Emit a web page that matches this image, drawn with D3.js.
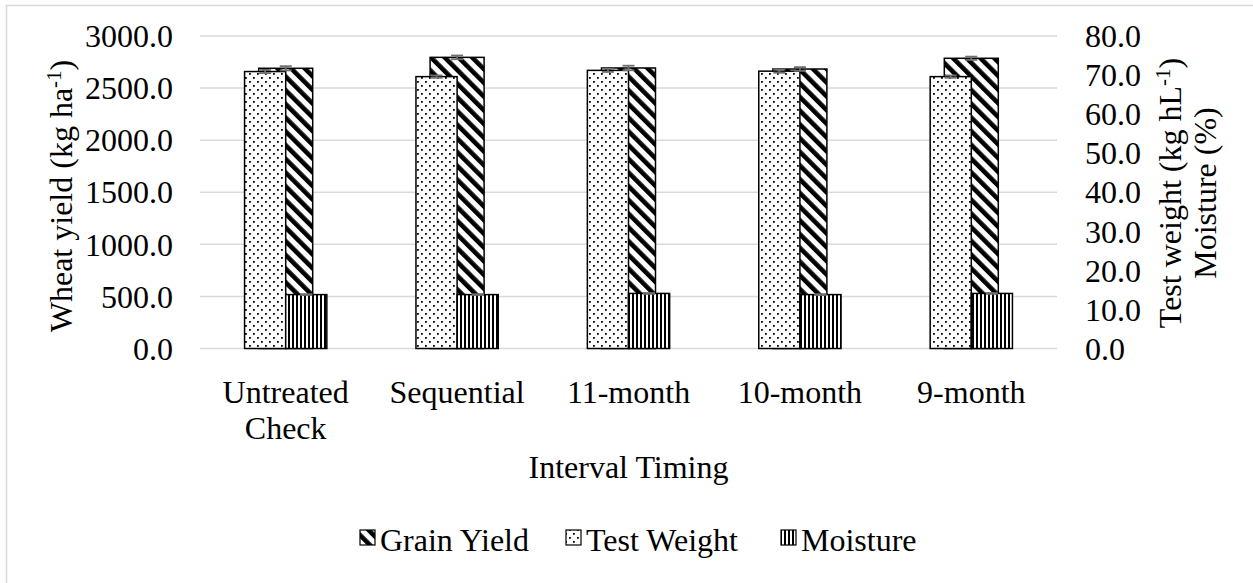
<!DOCTYPE html>
<html>
<head>
<meta charset="utf-8">
<script src="https://cdn.jsdelivr.net/npm/d3@7"></script>
<style>
  body { margin: 0; background: #fff; }
  text { font-family: "Liberation Serif", "Times New Roman", serif; fill: #000; }
</style>
</head>
<body>
<svg id="chart" width="1253" height="583"></svg>
<script>
// chart values
var categories = ["Untreated Check", "Sequential", "11-month", "10-month", "9-month"]
var grainYield = [2690, 2795, 2693, 2683, 2786]      // kg ha-1, left axis
var grainYieldErr = [20, 18, 22, 18, 16]
var testWeight = [70.9, 69.6, 71.2, 71.0, 69.6]      // kg hL-1, right axis
var testWeightErr = [0.4, 0.3, 0.4, 0.4, 0.3]
var moisture = [13.8, 13.8, 14.1, 13.8, 14.1]        // %, right axis
var moistureErr = [0.1, 0.1, 0.1, 0.1, 0.1]
var leftTicks = [0, 500, 1000, 1500, 2000, 2500, 3000]
var rightTicks = [0, 10, 20, 30, 40, 50, 60, 70, 80]

var svg = d3.select("#chart")
var W = 1253, H = 583
var plot = { left: 200, right: 1057, top: 36, bottom: 348.5 }

// outer chart border
svg.append("rect")
  .attr("x", 6.5).attr("y", 5.5)
  .attr("width", W + 20).attr("height", H + 20)
  .attr("fill", "#fff").attr("stroke", "#d9d9d9").attr("stroke-width", 1.5)

// fill patterns
var defs = svg.append("defs")
var dots = defs.append("pattern").attr("id", "dots")
  .attr("patternUnits", "userSpaceOnUse").attr("width", 8).attr("height", 8)
dots.append("rect").attr("width", 8).attr("height", 8).attr("fill", "#fff")
dots.append("rect").attr("x", 1).attr("y", 1).attr("width", 1.8).attr("height", 1.8).attr("fill", "#000")
dots.append("rect").attr("x", 5).attr("y", 5).attr("width", 1.8).attr("height", 1.8).attr("fill", "#000")

var diag = defs.append("pattern").attr("id", "diag")
  .attr("patternUnits", "userSpaceOnUse").attr("width", 9.7).attr("height", 9.7)
  .attr("patternTransform", "rotate(-45)")
diag.append("rect").attr("width", 9.7).attr("height", 9.7).attr("fill", "#fff")
diag.append("rect").attr("width", 4.6).attr("height", 9.7).attr("fill", "#000")

var vlines = defs.append("pattern").attr("id", "vlines")
  .attr("patternUnits", "userSpaceOnUse").attr("width", 4).attr("height", 4)
vlines.append("rect").attr("width", 4).attr("height", 4).attr("fill", "#fff")
vlines.append("rect").attr("width", 2).attr("height", 4).attr("fill", "#000")

// scales
var x = d3.scaleBand().domain(categories).range([plot.left, plot.right]).padding(0)
var yL = d3.scaleLinear().domain([0, 3000]).range([plot.bottom, plot.top])
var yR = d3.scaleLinear().domain([0, 80]).range([plot.bottom, plot.top])
var bw = x.bandwidth()
var wideW = bw * 0.315   // grain yield bar width
var sideW = bw * 0.24    // test weight / moisture bar width

// gridlines
svg.append("g").selectAll("line")
  .data(leftTicks)
  .enter()
  .append("line")
    .attr("x1", plot.left).attr("x2", plot.right)
    .attr("y1", function (d) { return yL(d) })
    .attr("y2", function (d) { return yL(d) })
    .attr("stroke", "#d9d9d9").attr("stroke-width", 1.5)

// left axis labels
svg.append("g").selectAll("text")
  .data(leftTicks)
  .enter()
  .append("text")
    .attr("x", 173)
    .attr("y", function (d) { return yL(d) })
    .attr("dy", "0.35em")
    .attr("text-anchor", "end")
    .style("font-size", "32px")
    .text(function (d) { return d3.format(".1f")(d) })

// right axis labels
svg.append("g").selectAll("text")
  .data(rightTicks)
  .enter()
  .append("text")
    .attr("x", 1085)
    .attr("y", function (d) { return yR(d) })
    .attr("dy", "0.35em")
    .attr("text-anchor", "start")
    .style("font-size", "32px")
    .text(function (d) { return d3.format(".1f")(d) })

var idx = d3.range(categories.length)
function cx(i) { return x(categories[i]) + bw / 2 }

// grain yield (primary axis), centred on the category
svg.append("g").selectAll("rect")
  .data(idx)
  .enter()
  .append("rect")
    .attr("x", function (i) { return cx(i) - wideW / 2 })
    .attr("y", function (i) { return yL(grainYield[i]) })
    .attr("width", wideW)
    .attr("height", function (i) { return plot.bottom - yL(grainYield[i]) })
    .attr("fill", "url(#diag)")
    .attr("stroke", "#000").attr("stroke-width", 1.5)

// test weight (secondary axis), left of centre
svg.append("g").selectAll("rect")
  .data(idx)
  .enter()
  .append("rect")
    .attr("x", function (i) { return cx(i) - sideW })
    .attr("y", function (i) { return yR(testWeight[i]) })
    .attr("width", sideW)
    .attr("height", function (i) { return plot.bottom - yR(testWeight[i]) })
    .attr("fill", "url(#dots)")
    .attr("stroke", "#000").attr("stroke-width", 1.5)

// moisture (secondary axis), right of centre
svg.append("g").selectAll("rect")
  .data(idx)
  .enter()
  .append("rect")
    .attr("x", function (i) { return cx(i) })
    .attr("y", function (i) { return yR(moisture[i]) })
    .attr("width", sideW)
    .attr("height", function (i) { return plot.bottom - yR(moisture[i]) })
    .attr("fill", "url(#vlines)")
    .attr("stroke", "#000").attr("stroke-width", 1.5)

// error bars
function errorBars(vals, errs, scale, offset) {
  var g = svg.append("g").attr("stroke", "#6e6e6e").attr("stroke-width", 1.8)
  idx.forEach(function (i) {
    var xc = cx(i) + offset
    var y0 = scale(vals[i] - errs[i]), y1 = scale(vals[i] + errs[i])
    g.append("line").attr("x1", xc).attr("x2", xc).attr("y1", y0).attr("y2", y1)
    g.append("line").attr("x1", xc - 6).attr("x2", xc + 6).attr("y1", y0).attr("y2", y0)
    g.append("line").attr("x1", xc - 6).attr("x2", xc + 6).attr("y1", y1).attr("y2", y1)
  })
}
errorBars(grainYield, grainYieldErr, yL, 0)
errorBars(testWeight, testWeightErr, yR, -sideW / 2)
errorBars(moisture, moistureErr, yR, sideW / 2)

// category labels (wrapped like Excel)
var catG = svg.append("g")
idx.forEach(function (i) {
  var words = categories[i] == "Untreated Check" ? ["Untreated", "Check"] : [categories[i]]
  words.forEach(function (w, k) {
    catG.append("text")
      .attr("x", cx(i))
      .attr("y", 403 + k * 36)
      .attr("text-anchor", "middle")
      .style("font-size", "32px")
      .text(w)
  })
})

// axis titles
svg.append("text")
  .attr("x", (plot.left + plot.right) / 2)
  .attr("y", 478)
  .attr("text-anchor", "middle")
  .style("font-size", "32px")
  .text("Interval Timing")

var lt = svg.append("text")
  .attr("transform", "translate(72," + 196 + ") rotate(-90)")
  .attr("text-anchor", "middle")
  .style("font-size", "32px")
lt.append("tspan").text("Wheat yield (kg ha")
lt.append("tspan").attr("dy", -11).style("font-size", "21px").text("-1")
lt.append("tspan").attr("dy", 11).text(")")

var rt = svg.append("text")
  .attr("transform", "translate(1181," + 193 + ") rotate(-90)")
  .attr("text-anchor", "middle")
  .style("font-size", "32px")
rt.append("tspan").text("Test weight (kg hL")
rt.append("tspan").attr("dy", -11).style("font-size", "21px").text("-1")
rt.append("tspan").attr("dy", 11).text(")")
svg.append("text")
  .attr("transform", "translate(1216," + 193 + ") rotate(-90)")
  .attr("text-anchor", "middle")
  .style("font-size", "32px")
  .text("Moisture (%)")

// legend
var legendItems = [
  { name: "Grain Yield", fill: "url(#diag)", x: 360 },
  { name: "Test Weight", fill: "url(#dots)", x: 566 },
  { name: "Moisture", fill: "url(#vlines)", x: 781 }
]
var lg = svg.append("g").selectAll("g")
  .data(legendItems)
  .enter()
  .append("g")
lg.append("rect")
  .attr("x", function (d) { return d.x })
  .attr("y", 530)
  .attr("width", 15).attr("height", 15)
  .attr("fill", function (d) { return d.fill })
  .attr("stroke", "#000").attr("stroke-width", 1.2)
lg.append("text")
  .attr("x", function (d) { return d.x + 20 })
  .attr("y", 551)
  .style("font-size", "32px")
  .text(function (d) { return d.name })
</script>
</body>
</html>
